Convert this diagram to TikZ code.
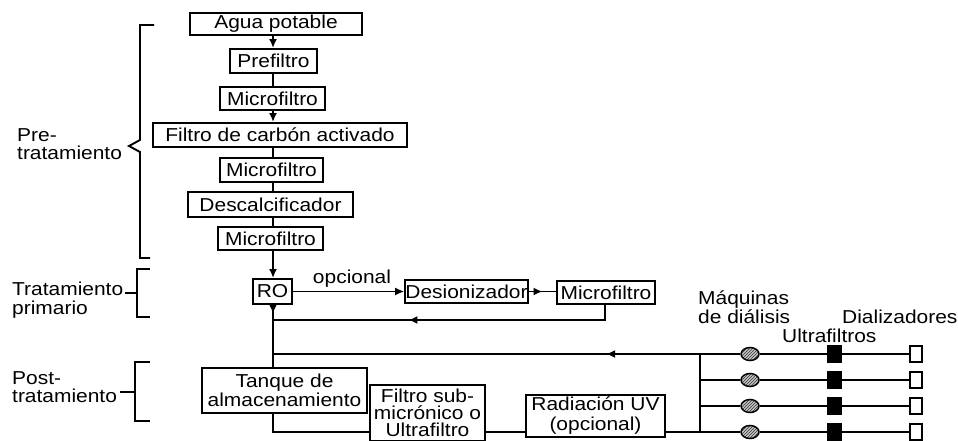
\documentclass[tikz,border=0pt]{standalone}
\usepackage{fontspec}
\setmainfont{Liberation Sans}[FakeStretch=1.12]
\usetikzlibrary{arrows.meta,shapes.geometric,patterns,decorations.markings}
\newcommand\dfont{\fontsize{18.7}{18.5}\selectfont}
\begin{document}
\begin{tikzpicture}[x=1pt,y=-1pt,
  every node/.style={font=\dfont, inner sep=0pt},
  box/.style={draw, line width=1.9pt, align=center},
  ln/.style={line width=1.9pt},
  tip/.style={-{Latex[length=9pt,width=8pt]}},
  midarrow/.style={postaction={decorate}, decoration={markings, mark=at position #1 with {\arrow{Latex[length=9pt,width=8pt]}}}},
  mach/.style={ellipse, draw, line width=1.5pt, minimum width=18pt, minimum height=13pt, preaction={fill=gray!45}, pattern=north east lines, pattern color=black!80},
  uf/.style={draw, fill=black, minimum width=14pt, minimum height=17pt},
  dz/.style={draw, fill=white, line width=1.5pt, minimum width=12pt, minimum height=16pt},
]
\useasboundingbox (0,0) rectangle (958,441);

% main column
\node[box, minimum width=172pt, minimum height=22pt] (agua) at (276,24) {Agua potable};
\node[box, minimum width=87pt, minimum height=24pt] (pre) at (273.5,61) {Prefiltro};
\node[box, minimum width=105pt, minimum height=23pt] (mf1) at (272.5,98.5) {Microfiltro};
\node[box, minimum width=254pt, minimum height=24pt] (carbon) at (280,135) {Filtro de carbón activado};
\node[box, minimum width=103pt, minimum height=24pt] (mf2) at (271.5,170) {Microfiltro};
\node[box, minimum width=165pt, minimum height=25pt] (desc) at (270.5,204.5) {Descalcificador};
\node[box, minimum width=105pt, minimum height=23pt] (mf3) at (270.5,238.5) {Microfiltro};
\node[box, minimum width=39pt, minimum height=25pt] (ro) at (272.5,291.5) {RO};
\node[box, minimum width=123pt, minimum height=23pt] (deion) at (466.5,291.5) {Desionizador};
\node[box, minimum width=98pt, minimum height=23pt] (mf4) at (606,292.5) {Microfiltro};
\node (opc) at (352,279) {opcional};
\node[box, minimum width=165pt, minimum height=45pt] (tanque) at (284.5,390.5) {Tanque de\\almacenamiento};
\node[box, minimum width=115pt, minimum height=56pt, font=\fontsize{18.7}{16.8}\selectfont] (filt) at (427.5,413) {Filtro sub-\\micrónico o\\Ultrafiltro};
\node[box, minimum width=139pt, minimum height=42pt, font=\fontsize{18.7}{20}\selectfont] (uv) at (595.5,416) {Radiación UV\\(opcional)};

% coordinates
\coordinate (sp) at (273,0);
\coordinate (r1) at (605,320);
\coordinate (j1) at (273,320);
\coordinate (j2) at (273,354);
\coordinate (t1) at (273,432);

% column connectors
\draw[ln, tip] (agua.south -| sp) -- (pre.north -| sp);
\draw[ln] (pre.south -| sp) -- (mf1.north -| sp);
\draw[ln, tip] (mf1.south -| sp) -- (carbon.north -| sp);
\draw[ln] (carbon.south -| sp) -- (mf2.north -| sp);
\draw[ln] (mf2.south -| sp) -- (desc.north -| sp);
\draw[ln] (desc.south -| sp) -- (mf3.north -| sp);
\draw[ln, tip] (mf3.south -| sp) -- (ro.north -| sp);
\draw[ln, midarrow=0.14] (ro.south -| sp) -- (tanque.north -| sp);
\draw[line width=1.3pt, tip] (ro.east) -- (deion.west);
\draw[ln, midarrow=0.5] (deion.east) -- (mf4.west |- deion.east);
\draw[ln, midarrow=0.61] (mf4.south -| r1) -- (r1) -- (j1);
\draw[ln] (tanque.south -| sp) -- (t1) -- (filt.west |- t1);
\draw[ln] (filt.east |- t1) -- (uv.west |- t1);

% distribution loop
\foreach \i/\y in {1/354,2/380,3/406,4/432}{
  \coordinate (h\i) at (700,\y);
  \node[mach] (m\i) at (750,\y) {};
  \node[uf] (u\i) at (834,\y) {};
  \node[dz] (d\i) at (916,\y) {};
  \draw[ln] (h\i) -- (m\i) -- (u\i) -- (d\i);
}
\draw[ln] (uv.east |- h4) -- (h4) -- (h1);
\draw[ln, midarrow=0.22] (h1) -- (j2);

% right labels
\node[align=left, anchor=west] (maq) at (698,307) {Máquinas\\de diálisis};
\node[anchor=west] (dial) at (842,317) {Dializadores};
\node[anchor=west] (ultra) at (782,336) {Ultrafiltros};

% left labels and brackets
\node[align=left, anchor=west] (lpre) at (17,144) {Pre-\\tratamiento};
\node[align=left, anchor=west] (lpri) at (12,300) {Tratamiento\\primario};
\node[align=left, anchor=west] (lpost) at (12,387) {Post-\\tratamiento};

\coordinate (b1a) at (154,25);
\coordinate (b1b) at (140,25);
\coordinate (b1c) at (140,140);
\coordinate (b1t) at (129,146);
\coordinate (b1d) at (140,152);
\coordinate (b1e) at (140,258);
\coordinate (b1f) at (150,258);
\draw[ln] (b1a) -- (b1b) -- (b1c) -- (b1t) -- (b1d) -- (b1e) -- (b1f);

\coordinate (b2a) at (150,269);
\coordinate (b2b) at (137,269);
\coordinate (b2c) at (137,317);
\coordinate (b2d) at (150,317);
\coordinate (b2t) at (137,293);
\coordinate (b2s) at (125,293);
\draw[ln] (b2a) -- (b2b) -- (b2c) -- (b2d);
\draw[ln] (b2s) -- (b2t);

\coordinate (b3a) at (150,362);
\coordinate (b3b) at (135,362);
\coordinate (b3c) at (135,421);
\coordinate (b3d) at (150,421);
\coordinate (b3t) at (135,392);
\coordinate (b3s) at (120,392);
\draw[ln] (b3a) -- (b3b) -- (b3c) -- (b3d);
\draw[ln] (b3s) -- (b3t);
\end{tikzpicture}
\end{document}
